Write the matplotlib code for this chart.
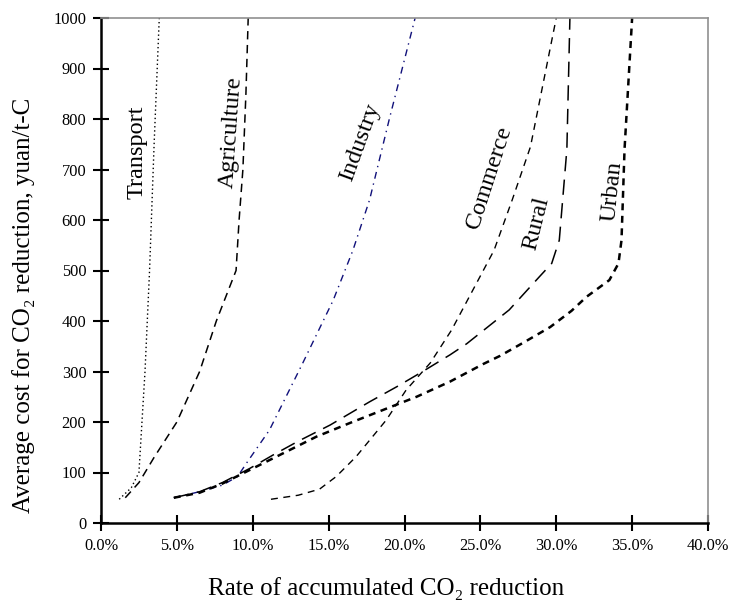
import matplotlib
matplotlib.use('Agg')
import matplotlib.pyplot as plt
from matplotlib.ticker import FuncFormatter, MultipleLocator

plt.rcParams['font.family'] = ['Liberation Serif', 'DejaVu Serif']
plt.rcParams['lines.scale_dashes'] = False

# rate of accumulated CO2 reduction (%) vs average cost (yuan/t-C)
transport_x = [1.2, 2.0, 2.5, 2.9, 3.2, 3.5, 3.84]
transport_y = [47, 70, 100, 300, 500, 750, 1000]

agri_x = [1.6, 2.5, 3.5, 5.0, 6.5, 7.6, 8.9, 9.1, 9.35, 9.55, 9.7]
agri_y = [50, 80, 130, 200, 300, 400, 500, 600, 700, 850, 1000]

industry_x = [4.8, 6.5, 8.0, 9.0, 9.6, 11.1, 13.3, 15.3, 16.6, 17.7, 19.0, 20.7]
industry_y = [50, 62, 75, 92, 119, 184, 317, 441, 540, 640, 800, 1000]

commerce_x = [11.2, 13.0, 14.4, 15.5, 16.8, 18.8, 20.1, 21.7, 23.1, 24.5, 25.9, 27.1, 28.3, 30.0]
commerce_y = [47, 55, 67, 92, 131, 204, 263, 317, 382, 461, 540, 640, 745, 1000]

rural_x = [4.8, 6.5, 8.0, 9.8, 11.3, 13.0, 15.1, 17.7, 19.5, 21.2, 23.0, 24.1, 26.9, 28.9, 29.7, 30.2, 30.7, 30.9]
rural_y = [50, 62, 80, 108, 134, 162, 194, 240, 270, 300, 333, 355, 422, 488, 514, 560, 740, 1000]

urban_x = [4.8, 6.5, 8.0, 9.8, 12.0, 14.2, 16.4, 18.6, 20.8, 23.0, 25.2, 26.3, 28.0, 29.6, 31.0, 32.0, 33.5, 34.1, 34.3, 34.5, 35.0]
urban_y = [50, 60, 78, 105, 138, 171, 198, 224, 250, 280, 315, 331, 360, 388, 420, 448, 481, 514, 560, 740, 1000]

labels = ['Transport', 'Agriculture', 'Industry', 'Commerce', 'Rural', 'Urban']
label_x = [2.37, 8.56, 17.1, 25.6, 28.7, 33.7]
label_y = [735, 774, 754, 683, 594, 657]
label_rot = [90, 86, 70, 72, 76, 84]

fig = plt.figure(figsize=(7.3, 6.01), dpi=100)
ax = fig.add_axes([101/730, 1 - 523/601, 607/730, 505/601])

ax.plot(transport_x, transport_y, color='black', lw=1.0, dashes=(1, 2))
ax.plot(agri_x, agri_y, color='black', lw=1.1, dashes=(6, 4))
ax.plot(industry_x, industry_y, color='#10107a', lw=1.0, dashes=(5, 3.5, 1, 3.5))
ax.plot(commerce_x, commerce_y, color='black', lw=1.0, dashes=(5, 4))
ax.plot(rural_x, rural_y, color='black', lw=1.1, dashes=(11, 6))
ax.plot(urban_x, urban_y, color='black', lw=1.8, dashes=(5, 4))

for t, x, y, r in zip(labels, label_x, label_y, label_rot):
    ax.text(x, y, t, rotation=r, ha='center', va='center', fontsize=17.5)

ax.set_xlim(0, 40)
ax.set_ylim(0, 1000)
ax.xaxis.set_major_locator(MultipleLocator(5))
ax.yaxis.set_major_locator(MultipleLocator(100))
ax.xaxis.set_major_formatter(FuncFormatter(lambda v, p: '%.1f%%' % v))
ax.tick_params(direction='inout', length=11, width=1.5, labelsize=11.8, color='black')
ax.tick_params(axis='x', pad=5)
ax.tick_params(axis='y', pad=5)

for s in ['left', 'bottom']:
    ax.spines[s].set_linewidth(1.8)
    ax.spines[s].set_color('black')
for s in ['top', 'right']:
    ax.spines[s].set_linewidth(1.2)
    ax.spines[s].set_color('#909090')

fig.text(386/730, 1 - 595/601, 'Rate of accumulated CO\u2082 reduction',
         ha='center', va='baseline', fontsize=18)
fig.text(30/730, 1 - 305/601, 'Average cost for CO\u2082 reduction, yuan/t-C',
         ha='center', va='baseline', rotation=90, rotation_mode='anchor', fontsize=18)

fig.savefig('out.png', dpi=100)
